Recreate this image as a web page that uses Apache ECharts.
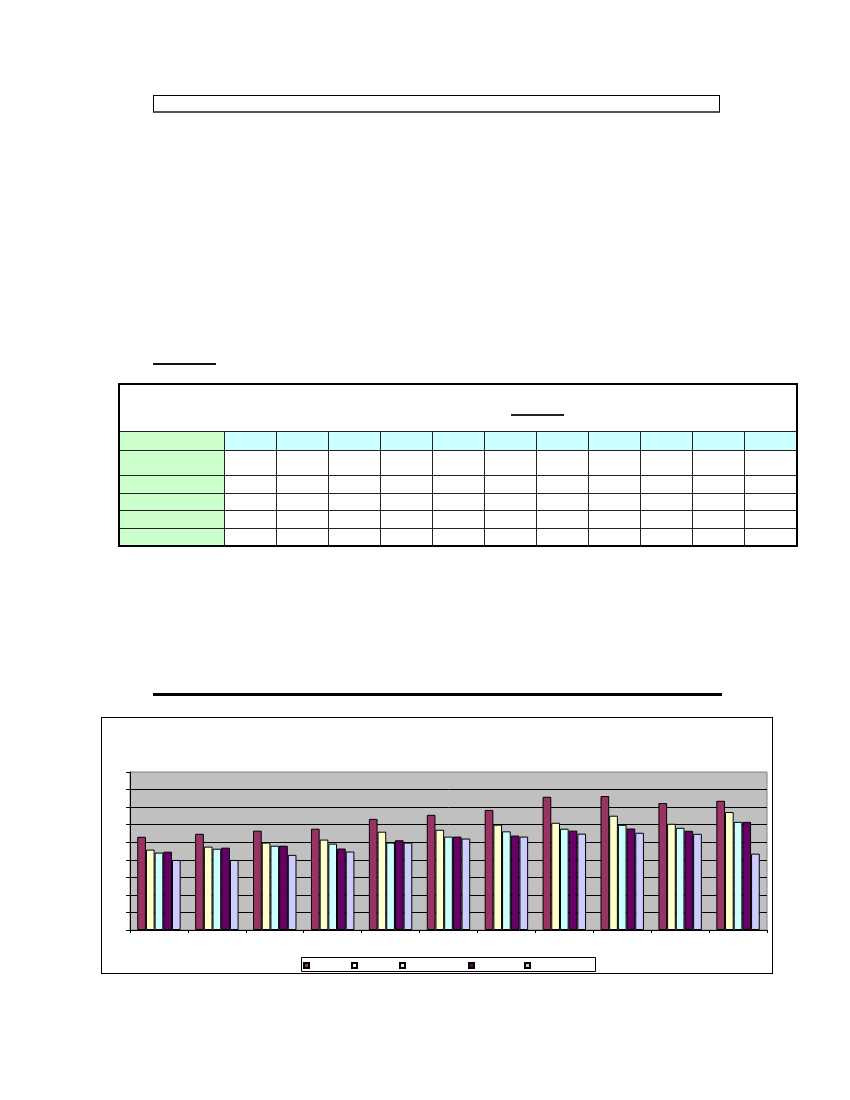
<!DOCTYPE html>
<html lang="en">

<head>
    <meta charset="UTF-8">
    <title>Chart</title>
    <style>
        body { margin: 0; background: #fff; width: 850px; height: 1100px; position: relative; }
        .abs { position: absolute; }
        #topBox { left: 153px; top: 95px; width: 567px; height: 18px; border: 1px solid #000; border-bottom: 2px solid #555; box-sizing: border-box; }
        #underline1 { left: 153px; top: 363px; width: 63px; height: 2px; background: #111; }
        #rule { left: 153px; top: 693px; width: 569px; height: 3px; background: #000; }
        #tbl { left: 118px; top: 383px; border-collapse: collapse; border: 2px solid #000; table-layout: fixed; }
        #tbl td { border: 1px solid #222; padding: 0; }
        #tbl td.g { background: #CCFFCC; }
        #tbl td.c { background: #CCFFFF; }
        #headLine { position: absolute; left: 391px; top: 29px; width: 53px; height: 2px; background: #222; }
        #main { left: 101px; top: 717px; width: 672px; height: 257px; border: 1px solid #000; box-sizing: border-box; }
    </style>
</head>

<body>
    <div id="topBox" class="abs"></div>
    <div id="underline1" class="abs"></div>

    <table id="tbl" class="abs">
        <colgroup id="cols"></colgroup>
        <tbody id="tbody"></tbody>
    </table>

    <div id="rule" class="abs"></div>
    <!-- Echarts容器 -->
    <div id="main" class="abs"></div>

    <script src="https://cdn.jsdelivr.net/npm/echarts@6/dist/echarts.min.js"></script>
    <script>
        // 图表数据 (no labels visible in the picture, values read off the gridlines)
        var categories = ['1', '2', '3', '4', '5', '6', '7', '8', '9', '10', '11']
        var seriesNames = ['Series 1', 'Series 2', 'Series 3', 'Series 4', 'Series 5']
        var s1 = [5.31, 5.48, 5.66, 5.77, 6.33, 6.56, 6.84, 7.59, 7.63, 7.23, 7.36]
        var s2 = [4.58, 4.75, 4.98, 5.15, 5.60, 5.71, 6.00, 6.11, 6.51, 6.05, 6.72]
        var s3 = [4.41, 4.63, 4.80, 4.92, 4.98, 5.32, 5.62, 5.77, 5.99, 5.82, 6.16]
        var s4 = [4.46, 4.69, 4.80, 4.64, 5.11, 5.32, 5.38, 5.66, 5.78, 5.65, 6.16]
        var s5 = [3.99, 3.99, 4.28, 4.47, 4.98, 5.21, 5.32, 5.49, 5.54, 5.48, 4.35]
        var colors = ['#993366', '#FFFFCC', '#CCFFFF', '#660066', '#CCCCFF']

        // 表格 (empty cells)
        var colWidths = [105, 52, 52, 52, 52, 52, 52, 52, 52, 52, 52, 53]
        var rowHeights = [47, 19, 25, 18, 17, 18, 18]

        window.onload = function () {
            var cols = document.getElementById('cols')
            colWidths.forEach(function (w) {
                var c = document.createElement('col')
                c.style.width = w + 'px'
                cols.appendChild(c)
            })
            var tbody = document.getElementById('tbody')
            rowHeights.forEach(function (h, r) {
                var tr = document.createElement('tr')
                tr.style.height = h + 'px'
                if (r === 0) {
                    var td = document.createElement('td')
                    td.colSpan = colWidths.length
                    td.style.position = 'relative'
                    td.innerHTML = '<div id="headLine"></div>'
                    tr.appendChild(td)
                } else {
                    colWidths.forEach(function (w, i) {
                        var td = document.createElement('td')
                        if (i === 0) td.className = 'g'
                        else if (r === 1) td.className = 'c'
                        tr.appendChild(td)
                    })
                }
                tbody.appendChild(tr)
            })

            var data = [s1, s2, s3, s4, s5]
            var legendLeft = [201, 249, 297, 366, 422]

            var myChart = echarts.init(document.getElementById('main'))
            var option = {
                animation: false,
                grid: {
                    left: 28, top: 54, right: 5, bottom: 43,
                    show: true, backgroundColor: '#C0C0C0', borderColor: '#808080', borderWidth: 1
                },
                graphic: [{
                    type: 'rect',
                    shape: { x: 199.5, y: 239.5, width: 294, height: 14 },
                    style: { fill: '#fff', stroke: '#000', lineWidth: 1 },
                    z: -1
                }],
                legend: seriesNames.map(function (n, i) {
                    return {
                        data: [n], left: legendLeft[i], top: 244, padding: 0,
                        icon: 'rect', itemWidth: 5, itemHeight: 5,
                        formatter: function () { return '' },
                        selectedMode: false
                    }
                }),
                xAxis: {
                    type: 'category',
                    data: categories,
                    axisLine: { lineStyle: { color: '#000' } },
                    axisTick: { show: true, length: 3, lineStyle: { color: '#000' } },
                    axisLabel: { show: false }
                },
                yAxis: {
                    type: 'value', min: 0, max: 9, interval: 1,
                    axisLine: { show: true, lineStyle: { color: '#000' } },
                    axisTick: { show: true, length: 4, lineStyle: { color: '#000' } },
                    axisLabel: { show: false },
                    splitLine: { show: true, showMaxLine: false, lineStyle: { color: '#000', width: 1 } }
                },
                series: seriesNames.map(function (n, i) {
                    return {
                        name: n, type: 'bar', data: data[i],
                        barGap: '0%', barCategoryGap: '25%',
                        itemStyle: { color: colors[i], borderColor: '#000', borderWidth: 1 }
                    }
                })
            }
            myChart.setOption(option)
        }
    </script>
</body>

</html>
